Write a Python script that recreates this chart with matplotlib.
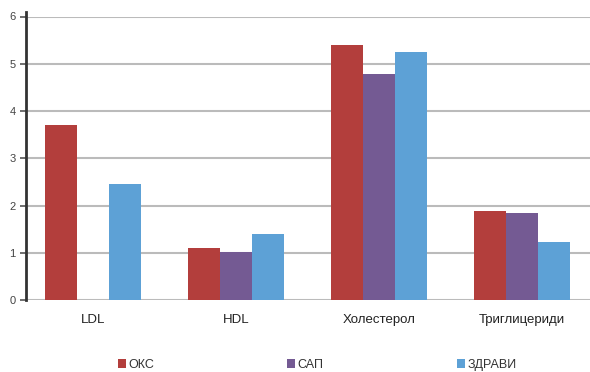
import matplotlib
matplotlib.use("Agg")
import matplotlib.pyplot as plt
import numpy as np
from matplotlib.patches import Patch

categories = ["LDL", "HDL", "Холестерол", "Триглицериди"]
series_names = ["ОКС", "САП", "ЗДРАВИ"]
oks = [3.70, 1.10, 5.40, 1.89]
sap = [0.0, 1.01, 4.78, 1.85]
zdravi = [2.45, 1.40, 5.24, 1.22]
yticks = [0, 1, 2, 3, 4, 5, 6]
colors = ["#B33E3C", "#745A93", "#5DA1D6"]

plt.rcParams['font.family'] = ['Liberation Sans', 'DejaVu Sans']

fig = plt.figure(figsize=(5.9, 3.72), dpi=100)
ax = fig.add_axes([26/590, (372-300)/372, (590-26)/590, (300-16.5)/372])

x = np.arange(len(categories))
w = 0.224
for i, (vals, c, name) in enumerate(zip([oks, sap, zdravi], colors, series_names)):
    ax.bar(x + (i-1)*w, vals, width=w, color=c, edgecolor='none', zorder=3, label=name)

ax.set_xlim(-0.468, 3.476)
ax.set_ylim(0, 6)
ax.set_yticks(yticks)
ax.yaxis.grid(True, color='#BBBBBB', linewidth=1.5, zorder=0)
ax.set_axisbelow(True)
for s in ['top', 'right', 'bottom']:
    ax.spines[s].set_visible(False)
ax.spines['left'].set_color('#333333')
ax.spines['left'].set_linewidth(2)
ax.spines['left'].set_bounds(0, 6.1)
ax.tick_params(axis='y', length=4, width=1.2, color='#555555', labelsize=8, labelcolor='#444444', pad=3.5)
ax.set_xticks(x)
ax.set_xticklabels(categories)
ax.tick_params(axis='x', length=0, labelsize=9.5, labelcolor='#222222', pad=10)
ax.set_clip_on(False)

xs = [118, 287, 457]
for xp, c, name in zip(xs, colors, series_names):
    fig.legend(handles=[Patch(facecolor=c, edgecolor='none')], labels=[name],
               loc='center left', bbox_to_anchor=(xp/590, 1 - 365/372),
               frameon=False, fontsize=9, handlelength=0.65, handleheight=0.65,
               handletextpad=0.2, borderpad=0, borderaxespad=0, labelcolor='#333333')

fig.savefig("out.png", dpi=100)
